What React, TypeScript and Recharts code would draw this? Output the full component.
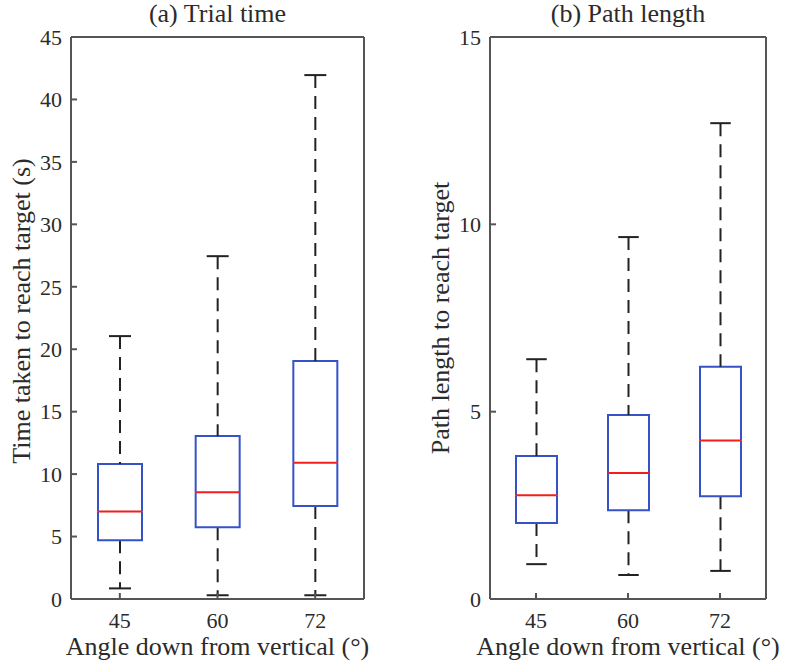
import React from "react";
import { ComposedChart, Bar, XAxis, YAxis, Label } from "recharts";

// box plot summaries
const ANGLES = ["45", "60", "72"];

const TIME_MIN = [0.85, 0.3, 0.3];
const TIME_Q1 = [4.7, 5.75, 7.45];
const TIME_MED = [7.0, 8.55, 10.9];
const TIME_Q3 = [10.8, 13.05, 19.05];
const TIME_MAX = [21.05, 27.45, 41.95];
const TIME_TICKS = [0, 5, 10, 15, 20, 25, 30, 35, 40, 45];

const PATH_MIN = [0.93, 0.64, 0.75];
const PATH_Q1 = [2.03, 2.37, 2.74];
const PATH_MED = [2.77, 3.36, 4.23];
const PATH_Q3 = [3.82, 4.91, 6.2];
const PATH_MAX = [6.4, 9.66, 12.7];
const PATH_TICKS = [0, 5, 10, 15];

const FONT = "'Liberation Serif', 'Times New Roman', serif";
const TEXT = "#2b2b2b";
const AXIS = "#555";
const BLUE = "#3552c8";
const RED = "#f21d1d";
const WHISKER = "#222";

function buildRows(mn: number[], q1: number[], med: number[], q3: number[], mx: number[]) {
  return ANGLES.map((angle, i) => ({
    angle,
    base: mn[i],
    lowW: q1[i] - mn[i],
    lowBox: med[i] - q1[i],
    upBox: q3[i] - med[i],
    upW: mx[i] - q3[i],
  }));
}

const timeRows = buildRows(TIME_MIN, TIME_Q1, TIME_MED, TIME_Q3, TIME_MAX);
const pathRows = buildRows(PATH_MIN, PATH_Q1, PATH_MED, PATH_Q3, PATH_MAX);

const Empty = () => <g />;

const LowWhisker = (p: any) => {
  const cx = p.x + p.width / 2;
  const cap = p.width / 4;
  const bottom = p.y + p.height;
  return (
    <g>
      <line x1={cx} x2={cx} y1={p.y} y2={bottom} stroke={WHISKER} strokeWidth={2} strokeDasharray="13 8" />
      <line x1={cx - cap} x2={cx + cap} y1={bottom} y2={bottom} stroke={WHISKER} strokeWidth={2} />
    </g>
  );
};

const UpWhisker = (p: any) => {
  const cx = p.x + p.width / 2;
  const cap = p.width / 4;
  const bottom = p.y + p.height;
  return (
    <g>
      <line x1={cx} x2={cx} y1={p.y} y2={bottom} stroke={WHISKER} strokeWidth={2} strokeDasharray="13 8" />
      <line x1={cx - cap} x2={cx + cap} y1={p.y} y2={p.y} stroke={WHISKER} strokeWidth={2} />
    </g>
  );
};

// lower half of the box: sides and bottom edge (Q1)
const LowBox = (p: any) => {
  const r = p.x + p.width;
  const b = p.y + p.height;
  return <path d={`M${p.x},${p.y} L${p.x},${b} L${r},${b} L${r},${p.y}`} fill="none" stroke={BLUE} strokeWidth={2} />;
};

// upper half: sides and top edge (Q3), median in red
const UpBox = (p: any) => {
  const r = p.x + p.width;
  const b = p.y + p.height;
  return (
    <g>
      <path d={`M${p.x},${b} L${p.x},${p.y} L${r},${p.y} L${r},${b}`} fill="none" stroke={BLUE} strokeWidth={2} />
      <line x1={p.x} x2={r} y1={b} y2={b} stroke={RED} strokeWidth={2} />
    </g>
  );
};

const tickStyle = { fontSize: 22, fontFamily: FONT, fill: TEXT };
const labelStyle = { fontSize: 26, fontFamily: FONT, fill: TEXT };

interface PanelProps {
  rows: any[];
  ticks: number[];
  title: string;
  yLabel: string;
  width: number;
  yWidth: number;
  right: number;
  barSize: number;
  yLabelX: number;
  yLabelShift: number;
}

function BoxPanel({ rows, ticks, title, yLabel, width, yWidth, right, barSize, yLabelX, yLabelShift }: PanelProps) {
  const domain = [ticks[0], ticks[ticks.length - 1]];
  return (
    <ComposedChart width={width} height={667} data={rows} margin={{ top: 36, right, bottom: 38, left: 0 }}>
      <XAxis
        xAxisId="b"
        dataKey="angle"
        height={30}
        stroke={AXIS}
        strokeWidth={2}
        tickSize={-6}
        tickMargin={19}
        tick={tickStyle}
      >
        <Label
          content={(props: any) => {
            const vb = props.viewBox;
            return (
              <text x={vb.x + vb.width / 2} y={vb.y + 56} textAnchor="middle" style={labelStyle}>
                Angle down from vertical (°)
              </text>
            );
          }}
        />
      </XAxis>
      <XAxis xAxisId="t" dataKey="angle" orientation="top" height={1} stroke={AXIS} strokeWidth={2} tickSize={-6} tick={false}>
        <Label
          content={(props: any) => {
            const vb = props.viewBox;
            return (
              <text x={vb.x + vb.width / 2} y={22} textAnchor="middle" style={labelStyle}>
                {title}
              </text>
            );
          }}
        />
      </XAxis>
      <YAxis
        yAxisId="l"
        domain={domain}
        ticks={ticks}
        width={yWidth}
        stroke={AXIS}
        strokeWidth={2}
        tickSize={-6}
        tickMargin={15}
        tick={tickStyle}
      >
        <Label
          content={(props: any) => {
            const vb = props.viewBox;
            const cy = vb.y + vb.height / 2 + yLabelShift;
            return (
              <text x={yLabelX} y={cy} transform={`rotate(-90 ${yLabelX} ${cy})`} textAnchor="middle" style={labelStyle}>
                {yLabel}
              </text>
            );
          }}
        />
      </YAxis>
      <YAxis yAxisId="r" orientation="right" domain={domain} ticks={ticks} width={1} stroke={AXIS} strokeWidth={2} tickSize={-6} tick={false} />
      <Bar xAxisId="b" yAxisId="l" dataKey="base" stackId="s" barSize={barSize} shape={Empty} isAnimationActive={false} />
      <Bar xAxisId="b" yAxisId="l" dataKey="lowW" stackId="s" barSize={barSize} shape={LowWhisker} isAnimationActive={false} />
      <Bar xAxisId="b" yAxisId="l" dataKey="lowBox" stackId="s" barSize={barSize} shape={LowBox} isAnimationActive={false} />
      <Bar xAxisId="b" yAxisId="l" dataKey="upBox" stackId="s" barSize={barSize} shape={UpBox} isAnimationActive={false} />
      <Bar xAxisId="b" yAxisId="l" dataKey="upW" stackId="s" barSize={barSize} shape={UpWhisker} isAnimationActive={false} />
    </ComposedChart>
  );
}

export default function App() {
  return (
    <div style={{ position: "absolute", left: 0, top: 0, width: 785, height: 667, background: "#fff", display: "flex" }}>
      <BoxPanel
        rows={timeRows}
        ticks={TIME_TICKS}
        title="(a) Trial time"
        yLabel="Time taken to reach target (s)"
        width={400}
        yWidth={71}
        right={35}
        barSize={44}
        yLabelX={30}
        yLabelShift={-7}
      />
      <BoxPanel
        rows={pathRows}
        ticks={PATH_TICKS}
        title="(b) Path length"
        yLabel="Path length to reach target"
        width={385}
        yWidth={90}
        right={18}
        barSize={41}
        yLabelX={49}
        yLabelShift={0}
      />
    </div>
  );
}
